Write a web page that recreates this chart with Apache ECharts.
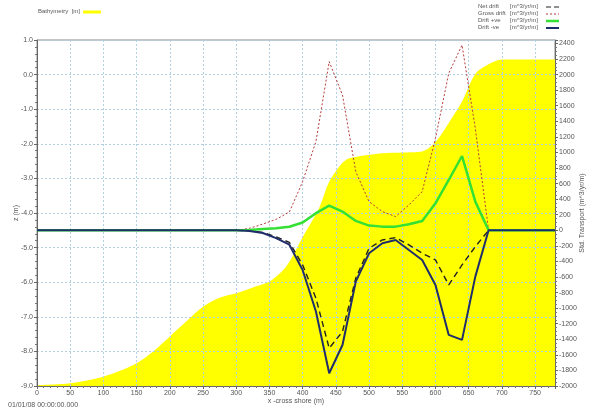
<!DOCTYPE html>
<html>
<head>
<meta charset="utf-8">
<script src="https://cdn.jsdelivr.net/npm/echarts@6/dist/echarts.min.js"></script>
<style>
html,body{margin:0;padding:0;background:#fff;}
#c{width:589px;height:411px;}
</style>
</head>
<body>
<div id="c"></div>
<script>
// Bathymetry profile (x in m, z in m)
const bathyX = [0, 25, 50, 75, 100, 125, 150, 175, 200, 225, 250, 275, 300, 325, 350, 375, 400, 425, 440, 460, 470, 480, 500, 520, 550, 580, 600, 620, 640, 660, 680, 700, 780];
const bathyZ = [-8.98, -8.96, -8.92, -8.84, -8.73, -8.56, -8.34, -8.0, -7.57, -7.13, -6.71, -6.45, -6.32, -6.15, -5.98, -5.55, -4.7, -3.85, -3.1, -2.55, -2.42, -2.38, -2.32, -2.27, -2.25, -2.22, -1.95, -1.4, -0.78, 0.02, 0.3, 0.44, 0.44];

// Transport series (x in m, values in m^3/yr/m)
const transX    = [0, 300, 320, 340, 360, 380, 400, 420, 440, 460, 480, 500, 520, 540, 560, 580, 600, 620, 640, 660, 680, 780];
const netDrift  = [0, 0, -6, -28, -85, -155, -445, -873, -1515, -1301, -616, -231, -124, -94, -188, -295, -381, -702, -445, -210, 0, 0];
const grossDrift= [0, 0, 25, 80, 140, 235, 625, 1139, 2166, 1737, 754, 368, 240, 176, 325, 497, 1181, 2016, 2379, 1310, 0, 0];
const driftPos  = [0, 0, 5, 15, 25, 45, 100, 220, 317, 240, 120, 60, 47, 47, 77, 120, 347, 646, 954, 368, 0, 0];
const driftNeg  = [0, 0, -8, -35, -100, -185, -510, -1044, -1836, -1473, -659, -295, -167, -124, -253, -381, -702, -1344, -1408, -595, 0, 0];

const xTicks = [0, 50, 100, 150, 200, 250, 300, 350, 400, 450, 500, 550, 600, 650, 700, 750];

const pairs = (xs, ys) => xs.map((x, i) => [x, ys[i]]);

const FONT = 'Liberation Sans';
const TXT = '#555';
const gridLine = {show: true, lineStyle: {color: '#b3d0e2', type: [2, 2], width: 1}};

const chart = echarts.init(document.getElementById('c'), null, {renderer: 'canvas'});
chart.setOption({
  animation: false,
  backgroundColor: '#fff',
  textStyle: {fontFamily: FONT},
  grid: {left: 37, right: 34, top: 40, bottom: 25, containLabel: false, outerBoundsMode: 'none',
    show: true, borderColor: '#888', borderWidth: 1, backgroundColor: '#fff', z: 0},
  xAxis: {
    type: 'value', min: 0, max: 780, interval: 50, z: 3,
    name: 'x -cross shore (m)', nameLocation: 'middle', nameGap: 12, nameMoveOverlap: false,
    nameTextStyle: {fontSize: 7, color: TXT, fontFamily: FONT},
    axisLine: {show: true, onZero: false, lineStyle: {color: '#666', width: 1}},
    axisTick: {show: true, inside: false, length: 3, lineStyle: {color: '#666'}},
    minorTick: {show: true, splitNumber: 5, length: 2, lineStyle: {color: '#777'}},
    axisLabel: {fontSize: 7, color: TXT, margin: 4, showMaxLabel: false,
      formatter: v => xTicks.indexOf(v) >= 0 ? String(v) : ''},
    splitLine: gridLine
  },
  yAxis: [{
    type: 'value', min: -9, max: 1, interval: 1, z: 3, position: 'left',
    name: 'z (m)', nameLocation: 'middle', nameGap: 17, nameRotate: 90, nameMoveOverlap: false,
    nameTextStyle: {fontSize: 7, color: TXT, fontFamily: FONT},
    axisLine: {show: true, lineStyle: {color: '#666'}},
    axisTick: {show: true, length: 3, lineStyle: {color: '#666'}},
    minorTick: {show: true, splitNumber: 5, length: 2, lineStyle: {color: '#777'}},
    axisLabel: {fontSize: 7, color: TXT, margin: 4, formatter: v => v.toFixed(1)},
    splitLine: gridLine
  }, {
    type: 'value', min: -2000, max: 2444, interval: 200, z: 3, position: 'right',
    alignTicks: false,
    name: 'Std. Transport (m^3/yr/m)', nameLocation: 'middle', nameGap: 24, nameRotate: 90, nameMoveOverlap: false,
    nameTextStyle: {fontSize: 7, color: TXT, fontFamily: FONT},
    axisLine: {show: true, lineStyle: {color: '#666'}},
    axisTick: {show: true, length: 3, lineStyle: {color: '#666'}},
    minorTick: {show: true, splitNumber: 4, length: 2, lineStyle: {color: '#777'}},
    axisLabel: {fontSize: 7, color: TXT, margin: 4, showMaxLabel: false, formatter: v => String(v)},
    splitLine: {show: false}
  }],
  series: [{
    name: 'Bathymetry', type: 'line', yAxisIndex: 0, z: 1, smooth: 0.3,
    data: pairs(bathyX, bathyZ), showSymbol: false,
    lineStyle: {width: 0, color: '#ffff00'},
    areaStyle: {color: '#ffff00', opacity: 1, origin: 'start'}
  }, {
    name: 'Net drift', type: 'line', yAxisIndex: 1, z: 5,
    data: pairs(transX, netDrift), showSymbol: false,
    lineStyle: {color: '#222', width: 1.4, type: [6, 4]}
  }, {
    name: 'Gross drift', type: 'line', yAxisIndex: 1, z: 5,
    data: pairs(transX, grossDrift), showSymbol: false,
    lineStyle: {color: '#b83a3a', width: 1, type: [2, 2]}
  }, {
    name: 'Drift +ve', type: 'line', yAxisIndex: 1, z: 6,
    data: pairs(transX, driftPos), showSymbol: false,
    lineStyle: {color: '#33e033', width: 2.5}
  }, {
    name: 'Drift -ve', type: 'line', yAxisIndex: 1, z: 7,
    data: pairs(transX, driftNeg), showSymbol: false,
    lineStyle: {color: '#1f2d6b', width: 2}
  }],
  graphic: [
    {type: 'text', left: 38, top: 8, style: {text: 'Bathymetry  [m]', fontSize: 6, fill: TXT, fontFamily: FONT}},
    {type: 'line', shape: {x1: 83, y1: 12, x2: 101, y2: 12}, style: {stroke: '#ffff00', lineWidth: 3}},

    {type: 'text', left: 478, top: 3, style: {text: 'Net drift', fontSize: 6, fill: TXT, fontFamily: FONT}},
    {type: 'text', left: 478, top: 10, style: {text: 'Gross drift', fontSize: 6, fill: TXT, fontFamily: FONT}},
    {type: 'text', left: 478, top: 17, style: {text: 'Drift +ve', fontSize: 6, fill: TXT, fontFamily: FONT}},
    {type: 'text', left: 478, top: 24, style: {text: 'Drift -ve', fontSize: 6, fill: TXT, fontFamily: FONT}},
    {type: 'text', left: 510, top: 3, style: {text: '[m^3/yr/m]', fontSize: 6, fill: TXT, fontFamily: FONT}},
    {type: 'text', left: 510, top: 10, style: {text: '[m^3/yr/m]', fontSize: 6, fill: TXT, fontFamily: FONT}},
    {type: 'text', left: 510, top: 17, style: {text: '[m^3/yr/m]', fontSize: 6, fill: TXT, fontFamily: FONT}},
    {type: 'text', left: 510, top: 24, style: {text: '[m^3/yr/m]', fontSize: 6, fill: TXT, fontFamily: FONT}},
    {type: 'line', shape: {x1: 546, y1: 7, x2: 559, y2: 7}, style: {stroke: '#222', lineWidth: 1.2, lineDash: [5, 3]}},
    {type: 'line', shape: {x1: 546, y1: 14, x2: 559, y2: 14}, style: {stroke: '#b83a3a', lineWidth: 1, lineDash: [2, 2]}},
    {type: 'line', shape: {x1: 546, y1: 21, x2: 559, y2: 21}, style: {stroke: '#33e033', lineWidth: 2.5}},
    {type: 'line', shape: {x1: 546, y1: 28, x2: 559, y2: 28}, style: {stroke: '#1f2d6b', lineWidth: 2}},

    {type: 'text', left: 8, top: 402, style: {text: '01/01/08 00:00:00.000', fontSize: 7, fill: TXT, fontFamily: FONT}}
  ]
});
</script>
</body>
</html>
